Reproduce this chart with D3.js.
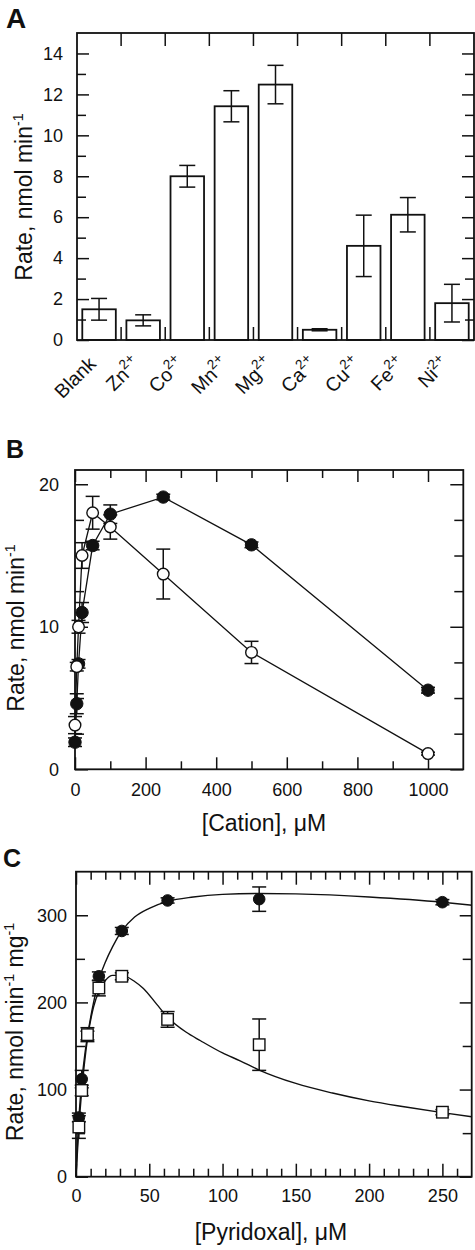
<!DOCTYPE html>
<html><head><meta charset="utf-8">
<script src="https://cdn.jsdelivr.net/npm/d3@7"></script>
<style>
body{margin:0;background:#fff}
svg{display:block}
text{font-family:"Liberation Sans",Arial,Helvetica,sans-serif;fill:#111}
.tick text{font-size:18px}
.tick line{stroke:#111;stroke-width:1.5}
</style>
</head><body>
<svg id="c" width="475" height="1250"></svg>
<script>
// ---------- Panel A data ----------
const catsA = ["Blank","Zn","Co","Mn","Mg","Ca","Cu","Fe","Ni"];
const supA  = ["","2+","2+","2+","2+","2+","2+","2+","2+"];
const rateA = [1.5,0.96,8.0,11.42,12.48,0.5,4.6,6.12,1.8];
const errA  = [0.53,0.27,0.53,0.76,0.94,0.05,1.5,0.84,0.92];
const yTicksA = [0,2,4,6,8,10,12,14];
const yMinorA = [1,3,5,7,9,11,13];

// ---------- Panel B data ----------
const cationX    = [0,5,10,20,50,100,250,500,1000];
const filledB    = [1.9,4.6,7.4,11.0,15.7,17.9,19.1,15.75,5.55];
const filledBErr = [0.3,0.7,0.3,0.7,0.3,0.65,0.2,0.2,0.2];
const openB      = [3.1,7.2,10.0,15.0,18.0,17.0,13.7,8.2,1.1];
const openBErr   = [0.6,0.3,0.45,0.9,1.15,0.85,1.75,0.78,0.1];
const xTicksB = [0,200,400,600,800,1000];
const xMinorB = [100,300,500,700,900];
const yTicksB = [0,10,20];
const yMinorB = [2.5,5,7.5,12.5,15,17.5];

// ---------- Panel C data ----------
const pyrX       = [1.95,3.9,7.8,15.6,31.25,62.5,125,250];
const filledC    = [68,112,162,230,282,317,318.5,315];
const filledCErr = [5,10,5,5,4,3,14,3];
const squareC    = [57,99,163,216.5,230,180.5,151.5,74];
const squareCErr = [13,6,8,9,4,9,29.5,3];
// fitted curves
const fitFilledX = [0,1,2,4,6,8,12,16,20,25,31.25,40,50,62.5,80,100,125,150,200,250,270];
const fitFilledY = [0,38,68,110,140,163,200,228,246,264,282,298,308,316,321,324,325,324.5,321,315,311.5];
const fitSquareX = [0,2,4,8,12,16,20,25,31.25,40,46,55,62.5,75,85,100,112,125,150,175,200,225,250,270];
const fitSquareY = [0,58,100,160,195,214,225,231,231,224,216,198,183,166,156,142,133,122.4,107,96,87,80,73.5,68.8];
const xTicksC = [0,50,100,150,200,250];
const xMinorC = [10,20,30,40,60,70,80,90,110,120,130,140,160,170,180,190,210,220,230,240,260];
const yTicksC = [0,100,200,300];
const yMinorC = [50,150,250];

const ink = "#111";
const svg = d3.select("#c");

function frame(x0,y0,x1,y1){
  svg.append("rect").attr("x",x0).attr("y",y0).attr("width",x1-x0).attr("height",y1-y0)
    .attr("fill","none").attr("stroke",ink).attr("stroke-width",1.8);
}
function clean(g){ g.select(".domain").remove(); g.attr("font-family",null).attr("font-size",null); return g; }

function yAxes(y,x0,x1,major,minor,lenMaj,lenMin,pad){
  clean(svg.append("g").attr("transform",`translate(${x0},0)`)
    .call(d3.axisLeft(y).tickValues(major).tickSize(-lenMaj).tickPadding(pad).tickFormat(d3.format("d"))));
  clean(svg.append("g").attr("transform",`translate(${x0},0)`)
    .call(d3.axisLeft(y).tickValues(minor).tickSize(-lenMin).tickFormat("")));
  clean(svg.append("g").attr("transform",`translate(${x1},0)`)
    .call(d3.axisRight(y).tickValues(major).tickSize(-lenMaj).tickFormat("")));
  clean(svg.append("g").attr("transform",`translate(${x1},0)`)
    .call(d3.axisRight(y).tickValues(minor).tickSize(-lenMin).tickFormat("")));
}
function xAxes(x,y0,y1,major,minor,lenMaj,lenMin,pad){
  clean(svg.append("g").attr("transform",`translate(0,${y0})`)
    .call(d3.axisBottom(x).tickValues(major).tickSize(-lenMaj).tickPadding(pad).tickFormat(d3.format("d"))));
  clean(svg.append("g").attr("transform",`translate(0,${y0})`)
    .call(d3.axisBottom(x).tickValues(minor).tickSize(-lenMin).tickFormat("")));
  clean(svg.append("g").attr("transform",`translate(0,${y1})`)
    .call(d3.axisTop(x).tickValues(major).tickSize(-lenMaj).tickFormat("")));
  clean(svg.append("g").attr("transform",`translate(0,${y1})`)
    .call(d3.axisTop(x).tickValues(minor).tickSize(-lenMin).tickFormat("")));
}
function errBars(xs,ys,es,x,y,cap){
  const g = svg.append("g").attr("stroke",ink).attr("stroke-width",1.5).attr("fill","none");
  xs.forEach((xv,i)=>{
    const cx=x(xv), t=y(ys[i]+es[i]), b=y(ys[i]-es[i]);
    g.append("line").attr("x1",cx).attr("x2",cx).attr("y1",t).attr("y2",b);
    g.append("line").attr("x1",cx-cap).attr("x2",cx+cap).attr("y1",t).attr("y2",t);
    g.append("line").attr("x1",cx-cap).attr("x2",cx+cap).attr("y1",b).attr("y2",b);
  });
}
function addParts(t,parts,fs,supScale,supRise){
  let shift=0;
  parts.forEach(p=>{
    if(p.sup){
      shift = fs*supRise;
      t.append("tspan").attr("font-size",fs*supScale).attr("dy",-shift).text(p.sup);
    } else {
      const s=t.append("tspan").text(p.t);
      if(shift){ s.attr("dy",shift); shift=0; }
    }
  });
}
function yTitle(x,y,parts){
  const t = svg.append("text").attr("transform",`translate(${x},${y}) rotate(-90)`)
    .attr("text-anchor","middle").attr("font-size",23);
  addParts(t,parts,23,0.62,0.4);
}
function letter(x,y,s,fs){
  svg.append("text").attr("x",x).attr("y",y).attr("font-size",fs).attr("font-weight","bold").text(s);
}

// ================= Panel A =================
{
  const x0=77, x1=474, y0=340, y1=33;
  const xA = d3.scaleBand().domain(catsA).range([x0,x1]).padding(0);
  const yA = d3.scaleLinear().domain([0,15]).range([y0,y1]);
  const bw = xA.bandwidth()*0.76;
  svg.append("g").selectAll("rect").data(catsA).join("rect")
    .attr("x",(d)=>xA(d)+(xA.bandwidth()-bw)/2)
    .attr("y",(d,i)=>yA(rateA[i]))
    .attr("width",bw)
    .attr("height",(d,i)=>yA(0)-yA(rateA[i]))
    .attr("fill","#fff").attr("stroke",ink).attr("stroke-width",1.8);
  errBars(catsA, rateA, errA, d=>xA(d)+xA.bandwidth()/2, yA, 8);
  const gb = svg.append("g").attr("stroke",ink).attr("stroke-width",1.5);
  catsA.slice(1).forEach(c=>{
    gb.append("line").attr("x1",xA(c)).attr("x2",xA(c)).attr("y1",y0).attr("y2",y0-13);
    gb.append("line").attr("x1",xA(c)).attr("x2",xA(c)).attr("y1",y1).attr("y2",y1+13);
  });
  yAxes(yA,x0,x1,yTicksA,yMinorA,12,9,14);
  frame(x0,y1,x1,y0);
  catsA.forEach((c,i)=>{
    const t = svg.append("text")
      .attr("transform",`translate(${xA(c)+xA.bandwidth()/2-2},${y0+25}) rotate(-45)`)
      .attr("text-anchor","end").attr("font-size",19.5);
    const parts=[{t:c}]; if(supA[i]) parts.push({sup:supA[i]});
    addParts(t,parts,19.5,0.7,0.42);
  });
  yTitle(32,197,[{t:"Rate, nmol min"},{sup:"-1"}]);
  letter(6,28,"A",28);
}

// ================= Panel B =================
{
  const x0=75, x1=463.3, y0=769.3, y1=470;
  const xB = d3.scaleLinear().domain([0,1100]).range([x0,x1]);
  const yB = d3.scaleLinear().domain([0,21]).range([y0,y1]);
  xAxes(xB,y0,y1,xTicksB,xMinorB,12,8,14);
  yAxes(yB,x0,x1,yTicksB,yMinorB,13,9,16);
  frame(x0,y1,x1,y0);
  const line = d3.line().x(d=>xB(d[0])).y(d=>yB(d[1]));
  svg.append("path").attr("d",line(cationX.map((v,i)=>[v,filledB[i]])))
    .attr("fill","none").attr("stroke",ink).attr("stroke-width",1.3);
  svg.append("path").attr("d",line(cationX.map((v,i)=>[v,openB[i]])))
    .attr("fill","none").attr("stroke",ink).attr("stroke-width",1.3);
  errBars(cationX,filledB,filledBErr,xB,yB,7);
  errBars(cationX,openB,openBErr,xB,yB,7);
  svg.append("g").selectAll("circle").data(cationX).join("circle")
    .attr("cx",d=>xB(d)).attr("cy",(d,i)=>yB(filledB[i])).attr("r",6.2)
    .attr("fill",ink).attr("stroke",ink).attr("stroke-width",1);
  svg.append("g").selectAll("circle").data(cationX).join("circle")
    .attr("cx",d=>xB(d)).attr("cy",(d,i)=>yB(openB[i])).attr("r",5.8)
    .attr("fill","#fff").attr("stroke",ink).attr("stroke-width",1.4);
  yTitle(24,628,[{t:"Rate, nmol min"},{sup:"-1"}]);
  svg.append("text").attr("x",264).attr("y",831).attr("text-anchor","middle")
    .attr("font-size",23).text("[Cation], \u03bcM");
  letter(6,458,"B",25);
}

// ================= Panel C =================
{
  const x0=76, x1=471.7, y0=1176.7, y1=871.7;
  const xC = d3.scaleLinear().domain([0,270]).range([x0,x1]);
  const yC = d3.scaleLinear().domain([0,350]).range([y0,y1]);
  xAxes(xC,y0,y1,xTicksC,xMinorC,13,8,13);
  yAxes(yC,x0,x1,yTicksC,yMinorC,12,9,9);
  frame(x0,y1,x1,y0);
  const curve = d3.line().x(d=>xC(d[0])).y(d=>yC(d[1])).curve(d3.curveMonotoneX);
  svg.append("path").attr("d",curve(fitFilledX.map((v,i)=>[v,fitFilledY[i]])))
    .attr("fill","none").attr("stroke",ink).attr("stroke-width",1.4);
  svg.append("path").attr("d",curve(fitSquareX.map((v,i)=>[v,fitSquareY[i]])))
    .attr("fill","none").attr("stroke",ink).attr("stroke-width",1.4);
  errBars(pyrX,filledC,filledCErr,xC,yC,7);
  errBars(pyrX,squareC,squareCErr,xC,yC,7);
  svg.append("g").selectAll("circle").data(pyrX).join("circle")
    .attr("cx",d=>xC(d)).attr("cy",(d,i)=>yC(filledC[i])).attr("r",5.8)
    .attr("fill",ink).attr("stroke",ink).attr("stroke-width",1);
  const s=11.5;
  svg.append("g").selectAll("rect").data(pyrX).join("rect")
    .attr("x",d=>xC(d)-s/2).attr("y",(d,i)=>yC(squareC[i])-s/2).attr("width",s).attr("height",s)
    .attr("fill","#fff").attr("stroke",ink).attr("stroke-width",1.4);
  yTitle(23,1032,[{t:"Rate, nmol min"},{sup:"-1"},{t:" mg"},{sup:"-1"}]);
  svg.append("text").attr("x",271).attr("y",1240).attr("text-anchor","middle")
    .attr("font-size",23).text("[Pyridoxal], \u03bcM");
  letter(3,867,"C",25);
}
</script>
</body></html>
